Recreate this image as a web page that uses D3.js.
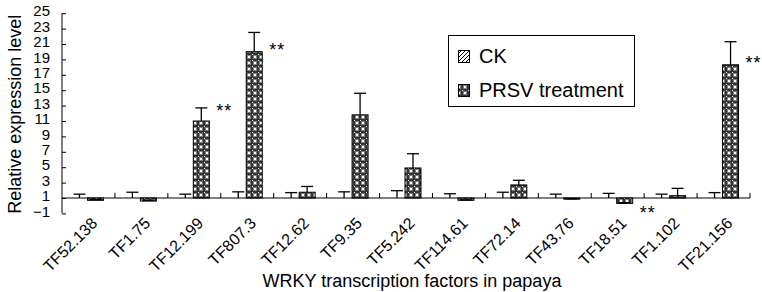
<!DOCTYPE html>
<html><head><meta charset="utf-8">
<script src="https://cdn.jsdelivr.net/npm/d3@7"></script>
<style>body{margin:0;background:#fff}svg{display:block;font-family:"Liberation Sans",Arial,sans-serif}</style>
</head><body><svg id="c" width="762" height="292"></svg>
<script>
const categories = ["TF52.138","TF1.75","TF12.199","TF807.3","TF12.62","TF9.35","TF5.242","TF114.61","TF72.14","TF43.76","TF18.51","TF1.102","TF21.156"];
const ckValues   = [1,1,1,1,1,1,1,1,1,1,1,1,1];
const ckErrors   = [0.5,0.75,0.5,0.8,0.7,0.8,0.95,0.55,0.75,0.5,0.6,0.5,0.7];
const prsvValues = [0.7,0.6,11,20,1.75,11.8,4.9,0.7,2.7,0.85,0.3,1.3,18.3];
const prsvErrors = [0.1,0.1,1.7,2.5,0.75,2.8,1.85,0.05,0.6,0.05,0.1,0.95,3.0];
const sigMarks   = ["","","**","**","","","","","","","**","","**"];
const sigLevel   = [0,0,12.8,20.7,0,0,0,0,0,0,-0.4,0,19.05];
const yTicks     = [-1,1,3,5,7,9,11,13,15,17,19,21,23,25];
const seriesNames = ["CK","PRSV treatment"];
const baseline = 1;

const svg = d3.select("#c");
const defs = svg.append("defs");
const hatch = defs.append("pattern").attr("id","hatch").attr("patternUnits","userSpaceOnUse").attr("width",4).attr("height",4);
hatch.append("rect").attr("width",4).attr("height",4).attr("fill","#fff");
hatch.append("path").attr("d","M-1,1 L1,-1 M0,4 L4,0 M3,5 L5,3").attr("stroke","#000").attr("stroke-width",1);
const dots = defs.append("pattern").attr("id","dots").attr("patternUnits","userSpaceOnUse").attr("width",6).attr("height",6);
dots.append("rect").attr("width",6).attr("height",6).attr("fill","#333");
dots.append("rect").attr("x",1).attr("y",1).attr("width",4).attr("height",4).attr("fill","#808080");
dots.append("rect").attr("x",2).attr("y",2).attr("width",2).attr("height",2).attr("fill","#fff");
dots.append("rect").attr("x",0).attr("y",0).attr("width",1).attr("height",1).attr("fill","#fff");
const fills = ["url(#hatch)","url(#dots)"];

const x = d3.scaleBand().domain(categories).range([62,750]).paddingInner(0).paddingOuter(0);
const inner = d3.scaleBand().domain([0,1]).range([x.bandwidth()/2-17, x.bandwidth()/2+15]);
const y = d3.scaleLinear().domain([-1,25]).range([213.4,13.2]);

// y axis
const yAxis = d3.axisLeft(y).tickValues(yTicks).tickSize(-4).tickPadding(12).tickFormat(d3.format("d"));
const gy = svg.append("g").attr("transform","translate(62,0)").call(yAxis);
gy.select(".domain").attr("d",`M0,${y(-1)}V${y(25)}`).attr("stroke","#000");
gy.selectAll(".tick line").attr("stroke","#000");
gy.selectAll(".tick text").attr("font-size",15).attr("fill","#000").attr("dy","0.18em").attr("font-family","Liberation Sans, Arial, sans-serif");

// x axis line at baseline
const y0 = y(baseline);
svg.append("line").attr("x1",62).attr("x2",750).attr("y1",y0).attr("y2",y0).attr("stroke","#000");
const bounds = categories.map(c => x(c) + x.bandwidth());
svg.selectAll(".xt").data(bounds).join("line").attr("x1",d=>d).attr("x2",d=>d).attr("y1",y0).attr("y2",y0-5).attr("stroke","#000");

// bars
const series = [ckValues, prsvValues];
const errs = [ckErrors, prsvErrors];
series.forEach((vals, s) => {
  const g = svg.append("g");
  g.selectAll("rect").data(vals).join("rect")
    .attr("x",(d,i)=>x(categories[i]) + inner(s))
    .attr("width",inner.bandwidth())
    .attr("y",d=>Math.min(y(d),y0))
    .attr("height",d=>Math.abs(y(d)-y0))
    .attr("fill",fills[s]).attr("stroke","#000").attr("stroke-width",1);
  const eg = svg.append("g").attr("stroke","#000").attr("stroke-width",1.3);
  vals.forEach((v,i)=>{
    const cx = x(categories[i]) + inner(s) + inner.bandwidth()/2;
    const top = y(v + errs[s][i]);
    eg.append("line").attr("x1",cx).attr("x2",cx).attr("y1",y(v)).attr("y2",top);
    eg.append("line").attr("x1",cx-6).attr("x2",cx+6).attr("y1",top).attr("y2",top);
  });
});

// significance marks
svg.selectAll(".sig").data(sigMarks).join("text")
  .attr("x",(d,i)=>x(categories[i]) + inner(1) + inner.bandwidth() + 15)
  .attr("y",(d,i)=>y(sigLevel[i]) + 10)
  .attr("text-anchor","middle").attr("font-size",18).attr("letter-spacing","1px")
  .text(d=>d);

// x tick labels
svg.selectAll(".xl").data(categories).join("text")
  .attr("transform",d=>`translate(${x(d)+x.bandwidth()/2+2},${y(-1)+3}) rotate(-45)`)
  .attr("text-anchor","end").attr("font-size",16).attr("dy","0.7em")
  .text(d=>d);

// axis titles
svg.append("text").attr("transform",`translate(21,${(y(-1)+y(25))/2+1}) rotate(-90)`)
  .attr("text-anchor","middle").attr("font-size",18).text("Relative expression level");
svg.append("text").attr("x",412).attr("y",287).attr("text-anchor","middle").attr("font-size",18)
  .text("WRKY transcription factors in papaya");

// legend
const lg = svg.append("g");
lg.append("rect").attr("x",448.5).attr("y",35.5).attr("width",186).attr("height",71).attr("fill","#fff").attr("stroke","#000");
seriesNames.forEach((n,i)=>{
  const yy = 50 + i*34;
  lg.append("rect").attr("x",458.5).attr("y",yy+0.5).attr("width",11).attr("height",12).attr("fill",fills[i]).attr("stroke","#000");
  lg.append("text").attr("x",479).attr("y",yy+13).attr("font-size",20).text(n);
});
</script></body></html>
